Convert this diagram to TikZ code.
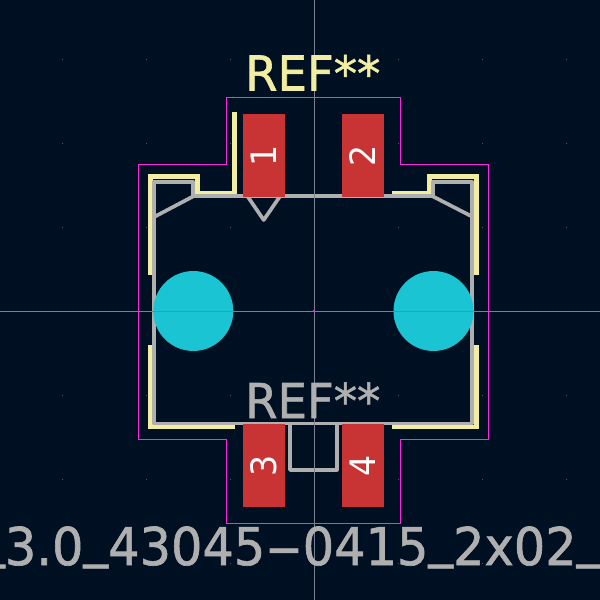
\documentclass[tikz,border=0pt]{standalone}
\usepackage{graphicx}
\usepackage{fontspec}
\setmainfont{DejaVu Sans}
\newfontfamily\partfont[FakeStretch=0.95,FakeBold=1.2]{DejaVu Sans}
\newfontfamily\reffont[FakeStretch=0.97,FakeBold=1.2]{DejaVu Sans}
\newfontfamily\numfont[FakeStretch=0.95]{DejaVu Sans}
\definecolor{boardbg}{HTML}{001023}
\definecolor{courtyard}{HTML}{FF26E2}
\definecolor{silk}{HTML}{F2EDA1}
\definecolor{fab}{HTML}{AFAFAF}
\definecolor{padred}{HTML}{C83434}
\definecolor{holecyan}{HTML}{1AC4D2}
\definecolor{crossline}{HTML}{7C8090}
\definecolor{griddot}{HTML}{4A5566}
\newcommand{\lowbar}{\raisebox{0.17em}{\_}}
\newcommand{\widehyphen}{\scalebox{2.1}[1]{-}}
\begin{document}
\begin{tikzpicture}[x=1pt,y=1pt,yscale=-1,xscale=1,
  silkline/.style={draw=silk,line width=4.6pt,line join=miter},
  fabline/.style={draw=fab,line width=3.7pt,line join=round},
  padbox/.style={fill=padred},
  padnum/.style={text=white,font=\numfont\fontsize{35}{35}\selectfont,rotate=90,inner sep=0pt},
  bigtext/.style={anchor=base west,inner sep=0pt,font=\reffont\fontsize{48}{48}\selectfont},
  partname/.style={anchor=base west,inner sep=0pt,text=fab,font=\partfont\fontsize{52}{52}\selectfont}]
\useasboundingbox (0,0) rectangle (600,600);
\clip (0,0) rectangle (600,600);
%Shape: Background
\fill [boardbg] (0,0) rectangle (600,600);
%Grid dots
\foreach \gx in {62,146,230,398,482,566}
  \foreach \gy in {59,143,227,395,479,563}
    \fill [griddot] (\gx-0.5,\gy-0.5) rectangle (\gx+0.5,\gy+0.5);

%Straight Lines: silk
\draw [silkline] (234.3,112) -- (234.3,193.3) -- (197.7,193.3) -- (197.7,176.7) -- (150.3,176.7) -- (150.3,275) ;
\draw [silkline] (391.7,193.3) -- (429.3,193.3) -- (429.3,176.7) -- (476.3,176.7) -- (476.3,275) ;
\draw [silkline] (150.3,345) -- (150.3,427) -- (235,427) ;
\draw [silkline] (476.3,345) -- (476.3,427) -- (391.7,427) ;

%Straight Lines: fab outline
\draw [fabline] (154,181.7) -- (193.3,181.7) -- (193.3,196.3) -- (432.7,196.3) -- (432.7,181.7) -- (472,181.7) -- (472,423.5) -- (154,423.5) -- cycle ;
\draw [fabline] (193.3,196.3) -- (154,217) ;
\draw [fabline] (432.7,196.3) -- (472,216.5) ;
\draw [fabline] (248,197) -- (263.7,220) -- (279.5,197) ;
\draw [fabline] (290,424) -- (290,470) -- (336.7,470) -- (336.7,424) ;

%Shape: Courtyard
\draw [courtyard,line width=1.8pt] (226.5,97.5) -- (400.5,97.5) -- (400.5,164.5) -- (488.5,164.5) -- (488.5,439.5) -- (400.5,439.5) -- (400.5,523.5) -- (226.5,523.5) -- (226.5,439.5) -- (138.5,439.5) -- (138.5,164.5) -- (226.5,164.5) -- cycle ;

%Shape: Pads
\fill [padbox] (243,113.5) rectangle (285,197) ;
\fill [padbox] (341.7,113.5) rectangle (384,197) ;
\fill [padbox] (243,423.5) rectangle (285,507) ;
\fill [padbox] (341.7,423.5) rectangle (384,507) ;
%Shape: Holes
\fill [holecyan] (193.3,311) circle (40) ;
\fill [holecyan] (433.5,311) circle (40) ;

%Straight Lines: cross hair
\draw [crossline,line width=1pt] (314,0) -- (314,600) ;
\draw [crossline,line width=1pt] (0,311) -- (600,311) ;
\fill [courtyard] (313,310) rectangle (315,312) ;

% Text Node
\draw (264,155.5) node [padnum] (padone) {1};
\draw (363,155.5) node [padnum] (padtwo) {2};
\draw (264,465.5) node [padnum] (padthree) {3};
\draw (363,465.5) node [padnum] (padfour) {4};
\draw (245,90.5) node [bigtext,text=silk] (refsilk) {REF**};
\draw (245,418) node [bigtext,text=fab] (reffab) {REF**};
\draw (-20,565) node [partname] (partvalue) {\lowbar 3.0\lowbar 43045\widehyphen 0415\lowbar 2x02\lowbar};
\end{tikzpicture}
\end{document}
